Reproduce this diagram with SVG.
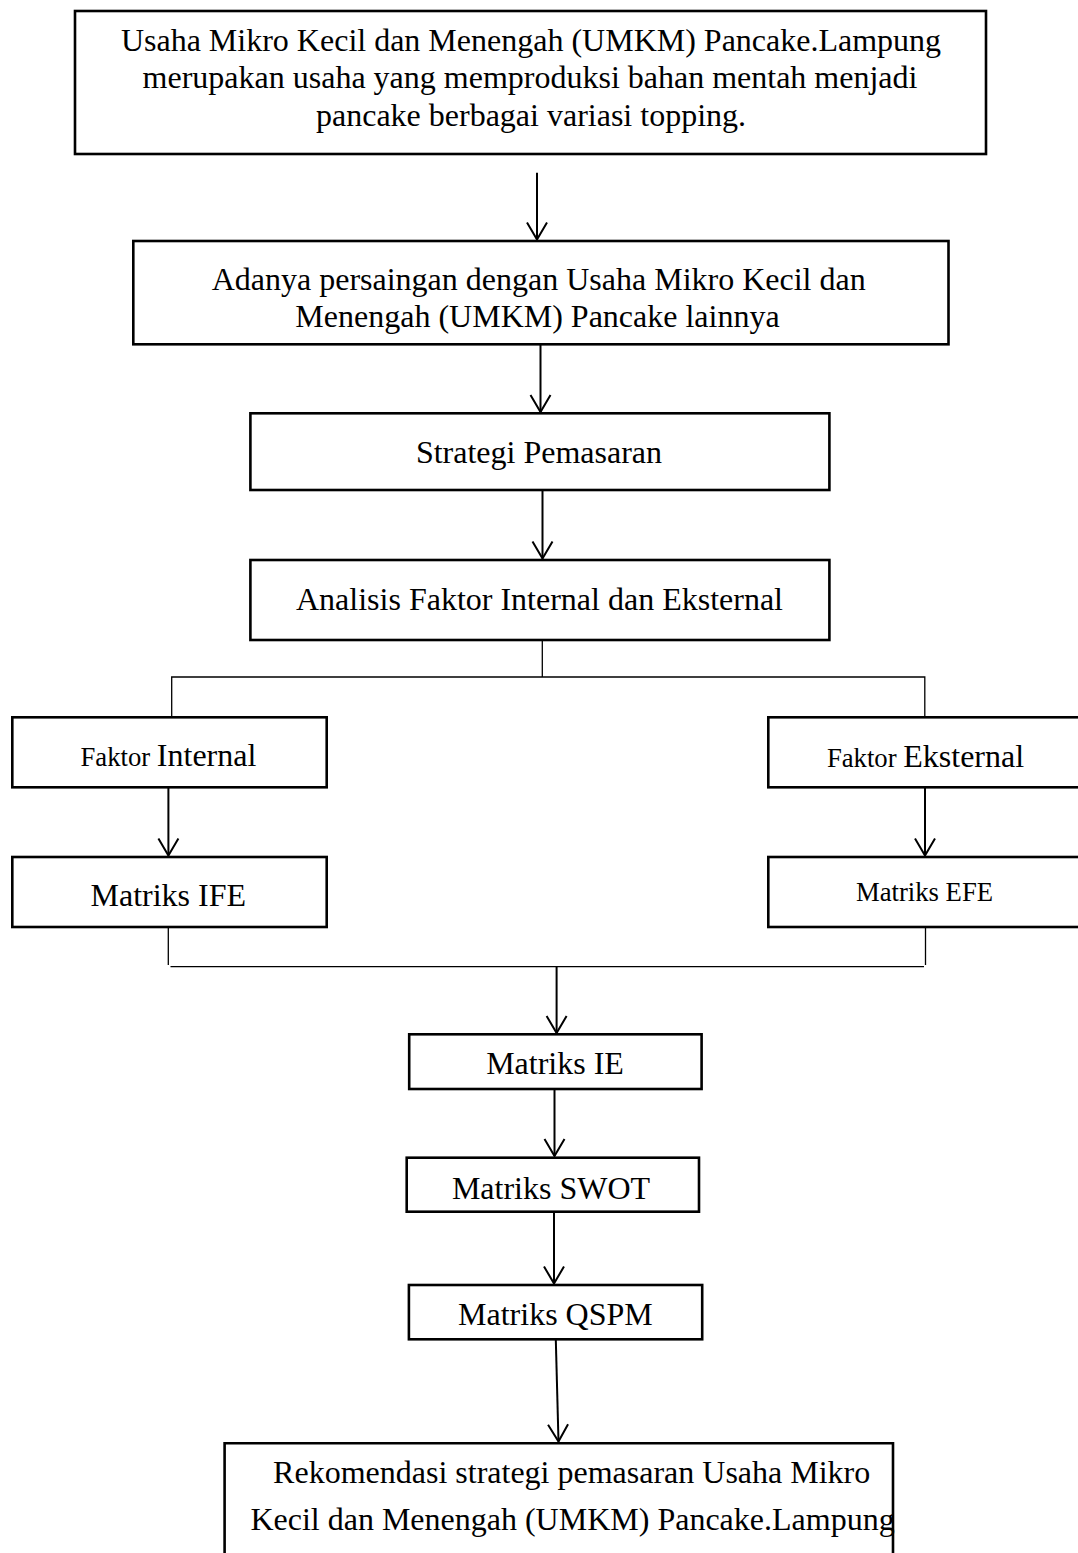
<svg xmlns="http://www.w3.org/2000/svg" width="1078" height="1553" viewBox="0 0 1078 1553">
<style>
.box{fill:#fff;stroke:#000;stroke-width:2.6}
.t{font-family:"Liberation Serif","Times New Roman",serif;font-size:32px;fill:#000;text-anchor:middle}
.s{font-size:26.7px}
.arr{stroke:#000;stroke-width:2;fill:none;marker-end:url(#ah)}
.ln{stroke:#000;stroke-width:1.3;fill:none}
</style>
<defs>
<marker id="ah" markerUnits="userSpaceOnUse" markerWidth="30" markerHeight="30" viewBox="-20 -15 25 30" refX="0" refY="0" orient="auto" overflow="visible">
<path d="M-17,-10 L0,0 L-17,10" fill="none" stroke="#000" stroke-width="2"/>
</marker>
</defs>
<rect width="1078" height="1553" fill="#fff"/>
<g id="connectors">
<line class="arr" x1="537" y1="172.7" x2="537" y2="239.5"/>
<line class="arr" x1="540.5" y1="344.3" x2="540.5" y2="412"/>
<line class="arr" x1="542.5" y1="490" x2="542.5" y2="558.5"/>
<polyline class="ln" points="542.3,640 542.3,677"/>
<polyline class="ln" points="171.7,717 171.7,677 924.8,677 924.8,717"/>
<line class="arr" x1="168.4" y1="787.3" x2="168.4" y2="855.5"/>
<line class="arr" x1="925" y1="787.3" x2="925" y2="855.5"/>
<polyline class="ln" points="168.3,927 168.3,965"/>
<polyline class="ln" points="925.5,927 925.5,965"/>
<polyline class="ln" points="170.5,966.7 924,966.7"/>
<line class="arr" x1="556.6" y1="966.7" x2="556.6" y2="1033"/>
<line class="arr" x1="554.5" y1="1089" x2="554.5" y2="1156"/>
<line class="arr" x1="554" y1="1213" x2="554" y2="1283.5"/>
<line class="arr" x1="555.8" y1="1339.5" x2="558.5" y2="1441.5"/>
</g>
<g id="n1">
<rect class="box" x="75" y="11" width="911" height="143"/>
<text class="t" x="531" y="50.7">Usaha Mikro Kecil dan Menengah (UMKM) Pancake.Lampung</text>
<text class="t" x="530" y="88.3">merupakan usaha yang memproduksi bahan mentah menjadi</text>
<text class="t" x="531" y="126">pancake berbagai variasi topping.</text>
</g>
<g id="n2">
<rect class="box" x="133.3" y="241" width="815.2" height="103.3"/>
<text class="t" x="538.7" y="290">Adanya persaingan dengan Usaha Mikro Kecil dan</text>
<text class="t" x="537.5" y="326.7">Menengah (UMKM) Pancake lainnya</text>
</g>
<g id="n3">
<rect class="box" x="250.4" y="413.3" width="579" height="76.7"/>
<text class="t" x="539" y="463.3">Strategi Pemasaran</text>
</g>
<g id="n4">
<rect class="box" x="250.4" y="560" width="579" height="80"/>
<text class="t" x="539.5" y="610">Analisis Faktor Internal dan Eksternal</text>
</g>
<g id="n5">
<rect class="box" x="12.3" y="717.3" width="314.4" height="70"/>
<text class="t" x="168.4" y="766"><tspan class="s">Faktor </tspan>Internal</text>
</g>
<g id="n6">
<rect class="box" x="768.3" y="717.3" width="313" height="70"/>
<text class="t" x="925.5" y="766.5"><tspan class="s">Faktor </tspan>Eksternal</text>
</g>
<g id="n7">
<rect class="box" x="12.3" y="857" width="314.4" height="70"/>
<text class="t" x="168.3" y="906">Matriks IFE</text>
</g>
<g id="n8">
<rect class="box" x="768.3" y="857" width="313" height="70"/>
<text class="t s" x="924.5" y="901">Matriks EFE</text>
</g>
<g id="n9">
<rect class="box" x="409.2" y="1034.3" width="292.4" height="54.7"/>
<text class="t" x="555" y="1074">Matriks IE</text>
</g>
<g id="n10">
<rect class="box" x="406.7" y="1157.7" width="292.3" height="54"/>
<text class="t" x="551" y="1199">Matriks SWOT</text>
</g>
<g id="n11">
<rect class="box" x="408.9" y="1285" width="293.3" height="54.3"/>
<text class="t" x="555.4" y="1325">Matriks QSPM</text>
</g>
<g id="n12">
<path class="box" d="M224.6,1560 V1443.3 H893 V1560"/>
<text class="t" x="571.7" y="1483.3">Rekomendasi strategi pemasaran Usaha Mikro</text>
<text class="t" x="572.5" y="1530">Kecil dan Menengah (UMKM) Pancake.Lampung</text>
</g>
</svg>
